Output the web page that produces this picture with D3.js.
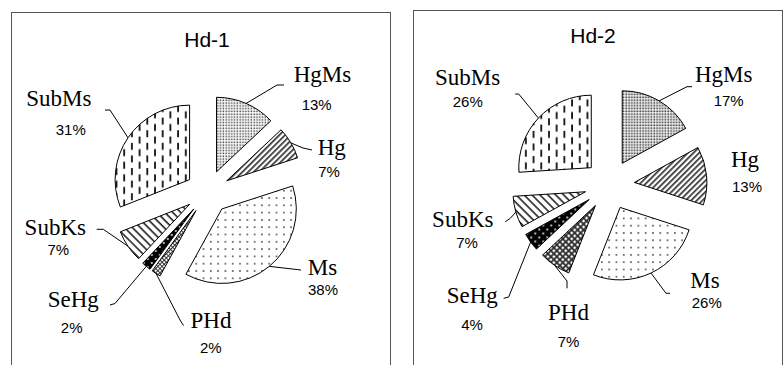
<!DOCTYPE html>
<html>
<head>
<meta charset="utf-8">
<script src="https://cdn.jsdelivr.net/npm/d3@7/dist/d3.min.js"></script>
<style>
  html, body { margin: 0; padding: 0; background: #fff; }
  svg { display: block; }
  .name { font-family: "Liberation Serif", "Times New Roman", serif; font-size: 23px; fill: #000; }
  .pct { font-family: "Liberation Sans", Arial, sans-serif; font-size: 15px; fill: #000; }
  .title { font-family: "Liberation Sans", Arial, sans-serif; font-size: 21px; fill: #000; }
</style>
</head>
<body>
<script>
// Mineral composition of the two samples (percent)
const categories = ["HgMs", "Hg", "Ms", "PHd", "SeHg", "SubKs", "SubMs"];
const sampleNames = ["Hd-1", "Hd-2"];
const valuesHd1 = [13, 7, 38, 2, 2, 7, 31];
const valuesHd2 = [17, 13, 26, 7, 4, 7, 26];

// Fill pattern used for each category (per sample where they differ)
const fillsHd1 = ["dotsFine", "diagUp", "dotsSparse", "checker", "blackDots", "diagDown", "vdash"];
const fillsHd2 = ["gridFine", "diagUp", "dotsSparse", "checkerBig", "blackDots", "diagDown", "vdash"];

// Panel layout: frame, pie centre, radius, slice explosion, label placement
const layouts = [
  {
    frame: { x: 11.5, y: 12.5, w: 379, h: 420 },
    title: { x: 207, y: 46.5 },
    cx: 207.8, cy: 192, r: 74.5, explode: 22,
    labels: {
      HgMs:  { n: [322.5, 81.7], p: [316.7, 110], lead: [[284, 85], [277, 85]] },
      Hg:    { n: [331.7, 155], p: [329, 176.7], lead: [[312, 150], [303, 148]] },
      Ms:    { n: [322.5, 275], p: [323, 295], lead: [[301, 270]] },
      PHd:   { n: [211, 328.3], p: [210.8, 353.3], lead: [[183.5, 325.5], [180, 320]] },
      SeHg:  { n: [73.3, 306.7], p: [71.7, 333.3], lead: [[110, 305], [115, 303.5]] },
      SubKs: { n: [55.3, 235], p: [58.3, 255], lead: [[96.7, 229.3], [103.3, 229.3]] },
      SubMs: { n: [58.8, 106], p: [70.8, 135], lead: [[105, 110], [110, 110]] }
    }
  },
  {
    frame: { x: 413.5, y: 10.5, w: 369, h: 420 },
    title: { x: 593, y: 43.3 },
    cx: 609.5, cy: 184.8, r: 72.5, explode: 25,
    labels: {
      HgMs:  { n: [723.7, 81.7], p: [728.7, 106], lead: [[692, 86.7], [687, 86.7]] },
      Hg:    { n: [745, 166.7], p: [747, 191.7], lead: null },
      Ms:    { n: [705, 288.3], p: [706.8, 308.3], lead: [[670, 293.3], [666, 293.3]] },
      PHd:   { n: [568.5, 320], p: [568.5, 346.7], lead: [[567, 288.3], [567, 281]] },
      SeHg:  { n: [472.3, 302.7], p: [472, 330], lead: [[503.7, 298.3], [508.7, 297]] },
      SubKs: { n: [462.8, 226.7], p: [467, 248.3], lead: [[505.3, 221.7], [510.3, 218.3]] },
      SubMs: { n: [467.5, 85], p: [467.8, 106.7], lead: [[515.3, 94], [518.7, 94]] }
    }
  }
];

const W = 783, H = 365;
const svg = d3.select("body").append("svg")
  .attr("width", W).attr("height", H)
  .attr("viewBox", `0 0 ${W} ${H}`);

// ---- hatch / dot patterns ----
const defs = svg.append("defs");
function pattern(id, w, h, transform) {
  const p = defs.append("pattern").attr("id", id)
    .attr("patternUnits", "userSpaceOnUse")
    .attr("width", w).attr("height", h);
  if (transform) p.attr("patternTransform", transform);
  return p;
}
{
  let p = pattern("dotsFine", 2.8, 2.8);
  p.append("rect").attr("width", 2.8).attr("height", 2.8).attr("fill", "#fff");
  p.append("rect").attr("x", 0.5).attr("y", 0.5).attr("width", 1.5).attr("height", 1.5).attr("fill", "#444");

  p = pattern("gridFine", 2.8, 2.8);
  p.append("rect").attr("width", 2.8).attr("height", 2.8).attr("fill", "#fff");
  p.append("rect").attr("x", 0.4).attr("y", 0.4).attr("width", 1.7).attr("height", 1.7).attr("fill", "#3a3a3a");

  p = pattern("diagUp", 4, 4, "rotate(-45)");
  p.append("rect").attr("width", 4).attr("height", 4).attr("fill", "#fff");
  p.append("rect").attr("y", 0).attr("width", 4).attr("height", 1.7).attr("fill", "#333");

  p = pattern("diagDown", 5.6, 5.6, "rotate(45)");
  p.append("rect").attr("width", 5.6).attr("height", 5.6).attr("fill", "#fff");
  p.append("rect").attr("y", 0).attr("width", 5.6).attr("height", 1.6).attr("fill", "#222");

  p = pattern("dotsSparse", 7.3, 7.3);
  p.append("rect").attr("width", 7.3).attr("height", 7.3).attr("fill", "#fff");
  p.append("circle").attr("cx", 3.6).attr("cy", 3.6).attr("r", 0.9).attr("fill", "#444");

  p = pattern("checker", 3, 3, "rotate(45)");
  p.append("rect").attr("width", 3).attr("height", 3).attr("fill", "#fff");
  p.append("rect").attr("width", 3).attr("height", 1).attr("fill", "#333");
  p.append("rect").attr("width", 1).attr("height", 3).attr("fill", "#333");

  // dark lattice with light openings
  p = pattern("checkerBig", 4.2, 4.2, "rotate(45)");
  p.append("rect").attr("width", 4.2).attr("height", 4.2).attr("fill", "#555");
  p.append("rect").attr("x", 1.5).attr("y", 1.5).attr("width", 2.2).attr("height", 2.2).attr("fill", "#fff");
  p.append("rect").attr("width", 4.2).attr("height", 0.9).attr("fill", "#222");
  p.append("rect").attr("width", 0.9).attr("height", 4.2).attr("fill", "#222");

  p = pattern("blackDots", 8, 8);
  p.append("rect").attr("width", 8).attr("height", 8).attr("fill", "#000");
  p.append("circle").attr("cx", 2).attr("cy", 2).attr("r", 1.1).attr("fill", "#ddd");
  p.append("circle").attr("cx", 6).attr("cy", 6).attr("r", 1.1).attr("fill", "#ddd");

  p = pattern("vdash", 15.4, 12.6);
  p.append("rect").attr("width", 15.4).attr("height", 12.6).attr("fill", "#fff");
  p.append("rect").attr("x", 3).attr("y", 1).attr("width", 1.8).attr("height", 7).attr("fill", "#111");
  p.append("rect").attr("x", 10.7).attr("y", 7.3).attr("width", 1.8).attr("height", 7).attr("fill", "#111");
  p.append("rect").attr("x", 10.7).attr("y", -5.3).attr("width", 1.8).attr("height", 7).attr("fill", "#111");
}

const pie = d3.pie().sort(null).value(d => d.value);
const seriesValues = [valuesHd1, valuesHd2];
const seriesFills = [fillsHd1, fillsHd2];

layouts.forEach((L, i) => {
  const g = svg.append("g");

  // chart frame
  g.append("rect")
    .attr("x", L.frame.x).attr("y", L.frame.y)
    .attr("width", L.frame.w).attr("height", L.frame.h)
    .attr("fill", "none").attr("stroke", "#555").attr("stroke-width", 1);

  g.append("text").attr("class", "title")
    .attr("x", L.title.x).attr("y", L.title.y)
    .attr("text-anchor", "middle")
    .text(sampleNames[i]);

  const data = categories.map((c, k) => ({ cat: c, value: seriesValues[i][k], fill: seriesFills[i][k] }));
  const arcs = pie(data);
  const arc = d3.arc().innerRadius(0).outerRadius(L.r);

  // exploded slices
  arcs.forEach(a => {
    const mid = (a.startAngle + a.endAngle) / 2;
    const ox = L.cx + L.explode * Math.sin(mid);
    const oy = L.cy - L.explode * Math.cos(mid);
    a.ox = ox; a.oy = oy; a.mid = mid;
    g.append("path")
      .attr("d", arc(a))
      .attr("transform", `translate(${ox},${oy})`)
      .attr("fill", `url(#${a.data.fill})`)
      .attr("stroke", "#000")
      .attr("stroke-width", 1)
      .attr("stroke-linejoin", "miter");
  });

  // leader lines and labels
  const line = d3.line();
  arcs.forEach(a => {
    const lab = L.labels[a.data.cat];
    if (lab.lead) {
      const attach = [a.ox + L.r * Math.sin(a.mid), a.oy - L.r * Math.cos(a.mid)];
      const pts = lab.lead.concat([attach]);
      g.append("path")
        .attr("d", line(pts))
        .attr("fill", "none").attr("stroke", "#000").attr("stroke-width", 1);
    }
    g.append("text").attr("class", "name")
      .attr("x", lab.n[0]).attr("y", lab.n[1])
      .attr("text-anchor", "middle")
      .text(a.data.cat);
    g.append("text").attr("class", "pct")
      .attr("x", lab.p[0]).attr("y", lab.p[1])
      .attr("text-anchor", "middle")
      .text(a.data.value + "%");
  });
});
</script>
</body>
</html>
